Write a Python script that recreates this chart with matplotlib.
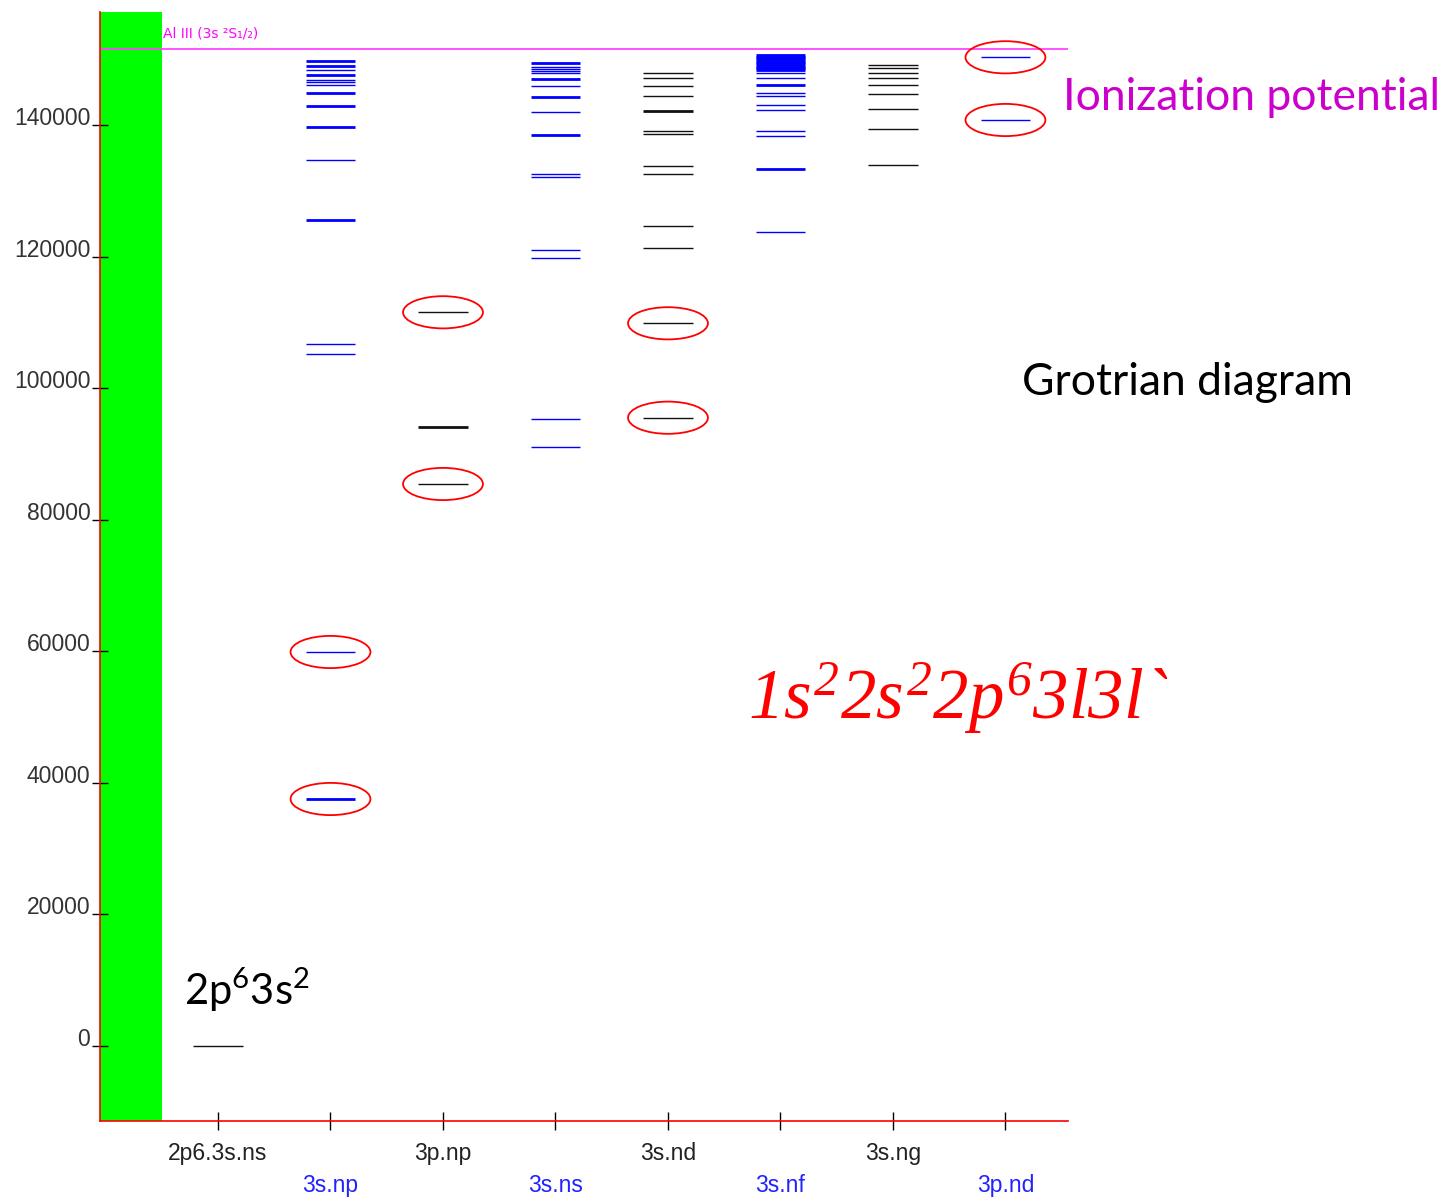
import matplotlib
matplotlib.use("Agg")
import matplotlib.pyplot as plt
from matplotlib.patches import Ellipse

# term series (columns) of the Al II Grotrian diagram
series = ["2p6.3s.ns", "3s.np", "3p.np", "3s.ns", "3s.nd", "3s.nf", "3s.ng", "3p.nd"]
series_colors = ["black", "blue", "black", "blue", "black", "blue", "black", "blue"]

# level energies, cm^-1
lev_2p6_3s_ns = [0]
lev_3s_np = [149809, 149094, 148440, 147634, 146965, 146570, 146205, 144897, 142920,
             139780, 134762, 125636, 106777, 105256, 59923, 37566]
lev_3p_np = [111590, 94194, 85475]
lev_3s_ns = [149553, 148944, 148549, 148245, 147940, 147073, 146006, 144379, 142098,
             138554, 132623, 132212, 121058, 119917, 95314, 91147]
lev_3s_nd = [147940, 147180, 145960, 144485, 142204, 139162, 138660, 133795, 132578,
             124757, 121321, 109915, 95557]
lev_3s_nf = [150700, 150450, 150200, 149950, 149700, 149450, 149200, 148950, 148700,
             148450, 147940, 147180, 146113, 144988, 144532, 143072, 142312, 139162,
             138401, 133429, 123763]
lev_3s_ng = [149201, 148699, 147940, 147180, 146206, 144791, 142555, 139422, 134038]
lev_3p_nd = [150372, 140835]

levels = [lev_2p6_3s_ns, lev_3s_np, lev_3p_np, lev_3s_ns, lev_3s_nd, lev_3s_nf, lev_3s_ng, lev_3p_nd]

# levels drawn heavier
thick = {
    1: [149809, 149094, 147634, 144897, 142920, 139780, 125636, 37566],
    2: [94194],
    3: [149553, 147073, 144379, 138554],
    4: [142204],
    5: [150700, 150450, 150200, 149950, 149700, 149450, 149200, 148950, 148700,
        148450, 146113, 133429],
}

# circled levels (column index, energy)
circled = [(1, 59923), (1, 37566), (2, 111590), (2, 85475),
           (4, 109915), (4, 95557), (7, 150372), (7, 140835)]

ion_limit = 151700
yticks = [0, 20000, 40000, 60000, 80000, 100000, 120000, 140000]

plt.rcParams["mathtext.fontset"] = "custom"
plt.rcParams["mathtext.rm"] = "Liberation Serif:italic"
plt.rcParams["mathtext.it"] = "Liberation Serif:italic"
plt.rcParams["mathtext.sf"] = "Lato"

fig = plt.figure(figsize=(14.47, 11.98), dpi=100)
ax = fig.add_axes([100 / 1447, 1 - 1121 / 1198, 968 / 1447, 1109 / 1198])
ax.set_xlim(-1.049, 7.556)
ax.set_ylim(-11407, 157261)

ax.axvspan(-1.049, -0.498, color="#00ff00", lw=0, zorder=0)
ax.axhline(ion_limit, color="#ff44ff", lw=1.3, zorder=1)
ax.text(-0.49, 154000, "Al III (3s ²S₁/₂)", color="#ff00ff", fontsize=10,
        family="DejaVu Sans", va="center", ha="left")

half = 0.22
for i, levs in enumerate(levels):
    c = "#111111" if series_colors[i] == "black" else "#0000ff"
    for e in levs:
        lw = 2.0 if e in thick.get(i, []) else 1.0
        ax.hlines(e, i - half, i + half, color=c, lw=lw, zorder=2)

for i, e in circled:
    ax.add_patch(Ellipse((i, e), 0.71, 4900, fill=False, edgecolor="red", lw=1.3, zorder=3))

for s in ["top", "right"]:
    ax.spines[s].set_visible(False)
for s in ["left", "bottom"]:
    ax.spines[s].set_color("red")
    ax.spines[s].set_linewidth(1.2)

ax.set_yticks(yticks)
ax.set_yticklabels([str(v) for v in yticks])
ax.tick_params(axis="y", direction="inout", length=12, width=1, color="black",
               labelsize=16.5, labelcolor="#333333", pad=1)
for lab in ax.get_yticklabels():
    lab.set_family("Liberation Sans")
    lab.set_va("baseline")

ax.set_xticks(range(len(series)))
ax.set_xticklabels([])
ax.tick_params(axis="x", direction="inout", length=13, width=1)
for i, t in enumerate(ax.xaxis.get_major_ticks()):
    t.tick1line.set_color(series_colors[i])
    yoff = -0.029 if i % 2 == 0 else -0.058
    ax.text(i, yoff, series[i], transform=ax.get_xaxis_transform(), ha="center", va="center",
            fontsize=16.5, family="Liberation Sans",
            color="#222222" if series_colors[i] == "black" else "#2222ff")

fig.text(1063 / 1447, 1 - 97 / 1198, "Ionization potential", color="#cc00cc",
         fontsize=32, family="Lato", va="center", ha="left")
fig.text(1022 / 1447, 1 - 382 / 1198, "Grotrian diagram", color="black",
         fontsize=32, family="Lato", va="center", ha="left")
fig.text(748 / 1447, 1 - 719 / 1198, r"$1s^2 2s^2 2p^6 3l3l$`", color="red",
         fontsize=51, family="Liberation Serif", style="italic", va="baseline", ha="left")
fig.text(184 / 1447, 1 - 1005 / 1198, r"$\mathsf{2p^6 3s^2}$", color="black",
         fontsize=30, va="baseline", ha="left")

fig.savefig("out.png", dpi=100)
